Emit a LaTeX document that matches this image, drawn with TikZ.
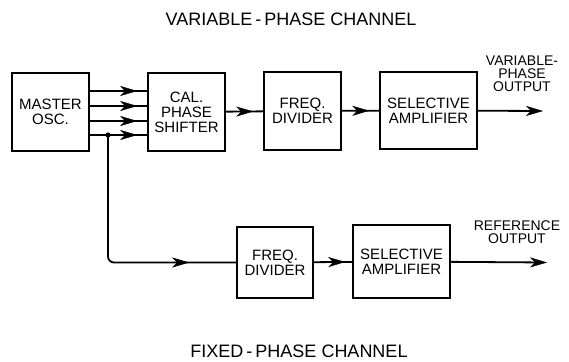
\documentclass[tikz,border=0pt]{standalone}
\usepackage{fontspec}
\setmainfont{Liberation Sans}
\usetikzlibrary{arrows.meta,decorations.markings,calc}
\tikzset{
  blk/.style={draw,line width=1.6pt,align=center,inner sep=0pt,font=\fontsize{15}{15}\selectfont},
  wire/.style={line width=1.8pt},
  midtip/.style={wire,postaction={decorate},decoration={markings,mark=at position #1 with {\arrow[line width=0.4pt]{Stealth[length=17pt,width=10pt,inset=5pt]}}}},
  endtip/.style={wire,-{Stealth[length=17pt,width=10pt,inset=5pt,line width=0.4pt]}},
  lbl/.style={align=center,inner sep=0pt,font=\fontsize{14}{13}\selectfont},
  ttl/.style={inner sep=0pt,font=\fontsize{18}{20}\selectfont}
}
\begin{document}
\begin{tikzpicture}[x=1pt,y=-1pt]
\useasboundingbox (0,0) rectangle (569,361);
\node[ttl] (t1) at (291,19) {VARIABLE\,-\,PHASE\ CHANNEL};
\node[ttl] (t2) at (299,351) {FIXED\,-\,PHASE\ CHANNEL};
\node[blk,minimum width=77pt,minimum height=78pt] (master) at (50.5,112) {MASTER\\OSC.};
\node[blk,minimum width=77pt,minimum height=78pt] (cal) at (186.5,112) {CAL.\\PHASE\\SHIFTER};
\node[blk,minimum width=77pt,minimum height=78pt] (fd1) at (302.5,111) {FREQ.\\DIVIDER};
\node[blk,minimum width=97pt,minimum height=77pt] (sa1) at (428.5,110.5) {SELECTIVE\\AMPLIFIER};
\node[blk,minimum width=76pt,minimum height=71pt] (fd2) at (275,262.5) {FREQ.\\DIVIDER};
\node[blk,minimum width=97pt,minimum height=73pt] (sa2) at (401.5,261.5) {SELECTIVE\\AMPLIFIER};
\node[lbl] (o1) at (522,74) {VARIABLE-\\PHASE\\OUTPUT};
\node[lbl] (o2) at (517,232) {REFERENCE\\OUTPUT};
\coordinate (e1) at (543,111);
\coordinate (e2) at (547,262.5);
\coordinate (tap) at (108,135);
\foreach \yy in {91,106,121,135}
  \draw[midtip=-10pt] (master.east |- 0,\yy) -- (cal.west |- 0,\yy);
\fill (tap) circle (2.6pt);
\draw[midtip=-10pt] (cal) -- (fd1);
\draw[midtip=-10pt] (fd1) -- (sa1);
\draw[endtip] (sa1) -- (e1);
\draw[midtip=-47pt,rounded corners=6pt] (tap) |- (fd2.west);
\draw[midtip=-7pt] (fd2) -- (sa2);
\draw[endtip] (sa2) -- (e2);
\end{tikzpicture}
\end{document}
